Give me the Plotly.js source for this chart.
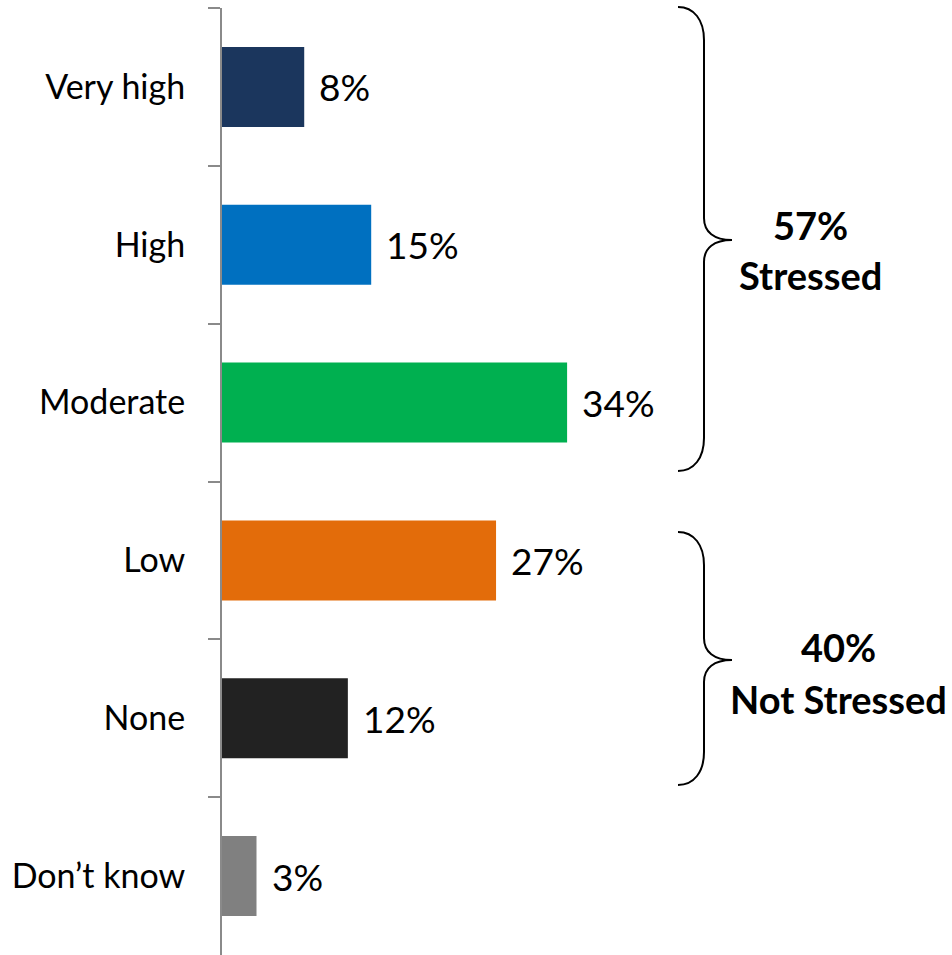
<!DOCTYPE html>
<html>
<head>
<meta charset="utf-8">
<script src="https://cdn.plot.ly/plotly-3.0.1.min.js"></script>
<style>html,body{margin:0;padding:0;background:#fff;}#chart{width:952px;height:955px;}</style>
</head>
<body>
<div id="chart"></div>
<script>
const categories = ['Very high', 'High', 'Moderate', 'Low', 'None', 'Don\u2019t know'];
const values = [8.1, 14.7, 34.0, 27.0, 12.4, 3.4];
const valueLabels = ['8%', '15%', '34%', '27%', '12%', '3%'];
const barColors = ['#1B365D', '#0070C0', '#00B050', '#E36C0A', '#222222', '#808080'];
const groupPct = ['57%', '40%'];
const groupNames = ['Stressed', 'Not Stressed'];

const W = 952, H = 955;
const M = {l: 222, r: 0, t: 8, b: 0};
const PW = W - M.l - M.r, PH = H - M.t - M.b;
const FONT = 'Lato, "Open Sans", sans-serif';

// pixel -> paper helpers (for decorative braces / group labels only)
const px = x => (x - M.l) / PW;
const py = y => 1 - (y - M.t) / PH;
function bracePath(top, tip, bottom) {
  const xe = 678, xv = 704, xt = 732;
  const P = (x, y) => px(x).toFixed(5) + ',' + py(y).toFixed(5);
  return 'M' + P(xe, top) +
    ' C' + P(xe + 16, top) + ' ' + P(xv, top + 13) + ' ' + P(xv, top + 33) +
    ' L' + P(xv, tip - 22) +
    ' C' + P(xv, tip - 8) + ' ' + P(xv + 10, tip) + ' ' + P(xt, tip) +
    ' C' + P(xv + 10, tip) + ' ' + P(xv, tip + 8) + ' ' + P(xv, tip + 22) +
    ' L' + P(xv, bottom - 33) +
    ' C' + P(xv, bottom - 13) + ' ' + P(xe + 16, bottom) + ' ' + P(xe, bottom);
}

const trace = {
  type: 'bar',
  orientation: 'h',
  y: categories,
  x: values,
  marker: {color: barColors, line: {width: 0}},
  hoverinfo: 'skip'
};

const annotations = categories.map((c, i) => ({
  x: values[i], y: c, xref: 'x', yref: 'y',
  text: valueLabels[i], showarrow: false,
  xanchor: 'left', yanchor: 'middle', xshift: 13,
  font: {family: FONT, size: 37, color: '#000'}
}));

const groupY = [[225, 275], [647, 699]];
const groupX = [810, 838];
groupPct.forEach((t, i) => {
  annotations.push({
    x: px(groupX[i]), y: py(groupY[i][0]), xref: 'paper', yref: 'paper',
    text: '<b>' + t + '</b>', showarrow: false, xanchor: 'center', yanchor: 'middle',
    font: {family: FONT, size: 38, color: '#000', weight: 'bold'}
  });
  annotations.push({
    x: px(groupX[i]), y: py(groupY[i][1]), xref: 'paper', yref: 'paper',
    text: '<b>' + groupNames[i] + '</b>', showarrow: false, xanchor: 'center', yanchor: 'middle',
    font: {family: FONT, size: 38, color: '#000', weight: 'bold'}
  });
});

const shapes = [
  {type: 'path', xref: 'paper', yref: 'paper', path: bracePath(7, 240, 471), line: {color: '#000', width: 2}},
  {type: 'path', xref: 'paper', yref: 'paper', path: bracePath(532, 660, 785), line: {color: '#000', width: 2}}
];

const layout = {
  width: W, height: H,
  margin: M,
  paper_bgcolor: '#fff', plot_bgcolor: '#fff',
  showlegend: false,
  bargap: 0.493,
  xaxis: {range: [0, PW / 10.15], visible: false, fixedrange: true},
  yaxis: {
    type: 'category', categoryorder: 'array', categoryarray: categories,
    autorange: 'reversed',
    tickson: 'boundaries', ticks: 'outside', ticklen: 12, tickwidth: 2, tickcolor: '#8A8A8A',
    showline: true, linecolor: '#8A8A8A', linewidth: 2,
    showgrid: false, zeroline: false,
    tickfont: {family: FONT, size: 34, color: '#000'},
    ticklabelstandoff: 28
  },
  annotations: annotations,
  shapes: shapes
};

Plotly.newPlot('chart', [trace], layout, {displayModeBar: false, staticPlot: true});
</script>
</body>
</html>
